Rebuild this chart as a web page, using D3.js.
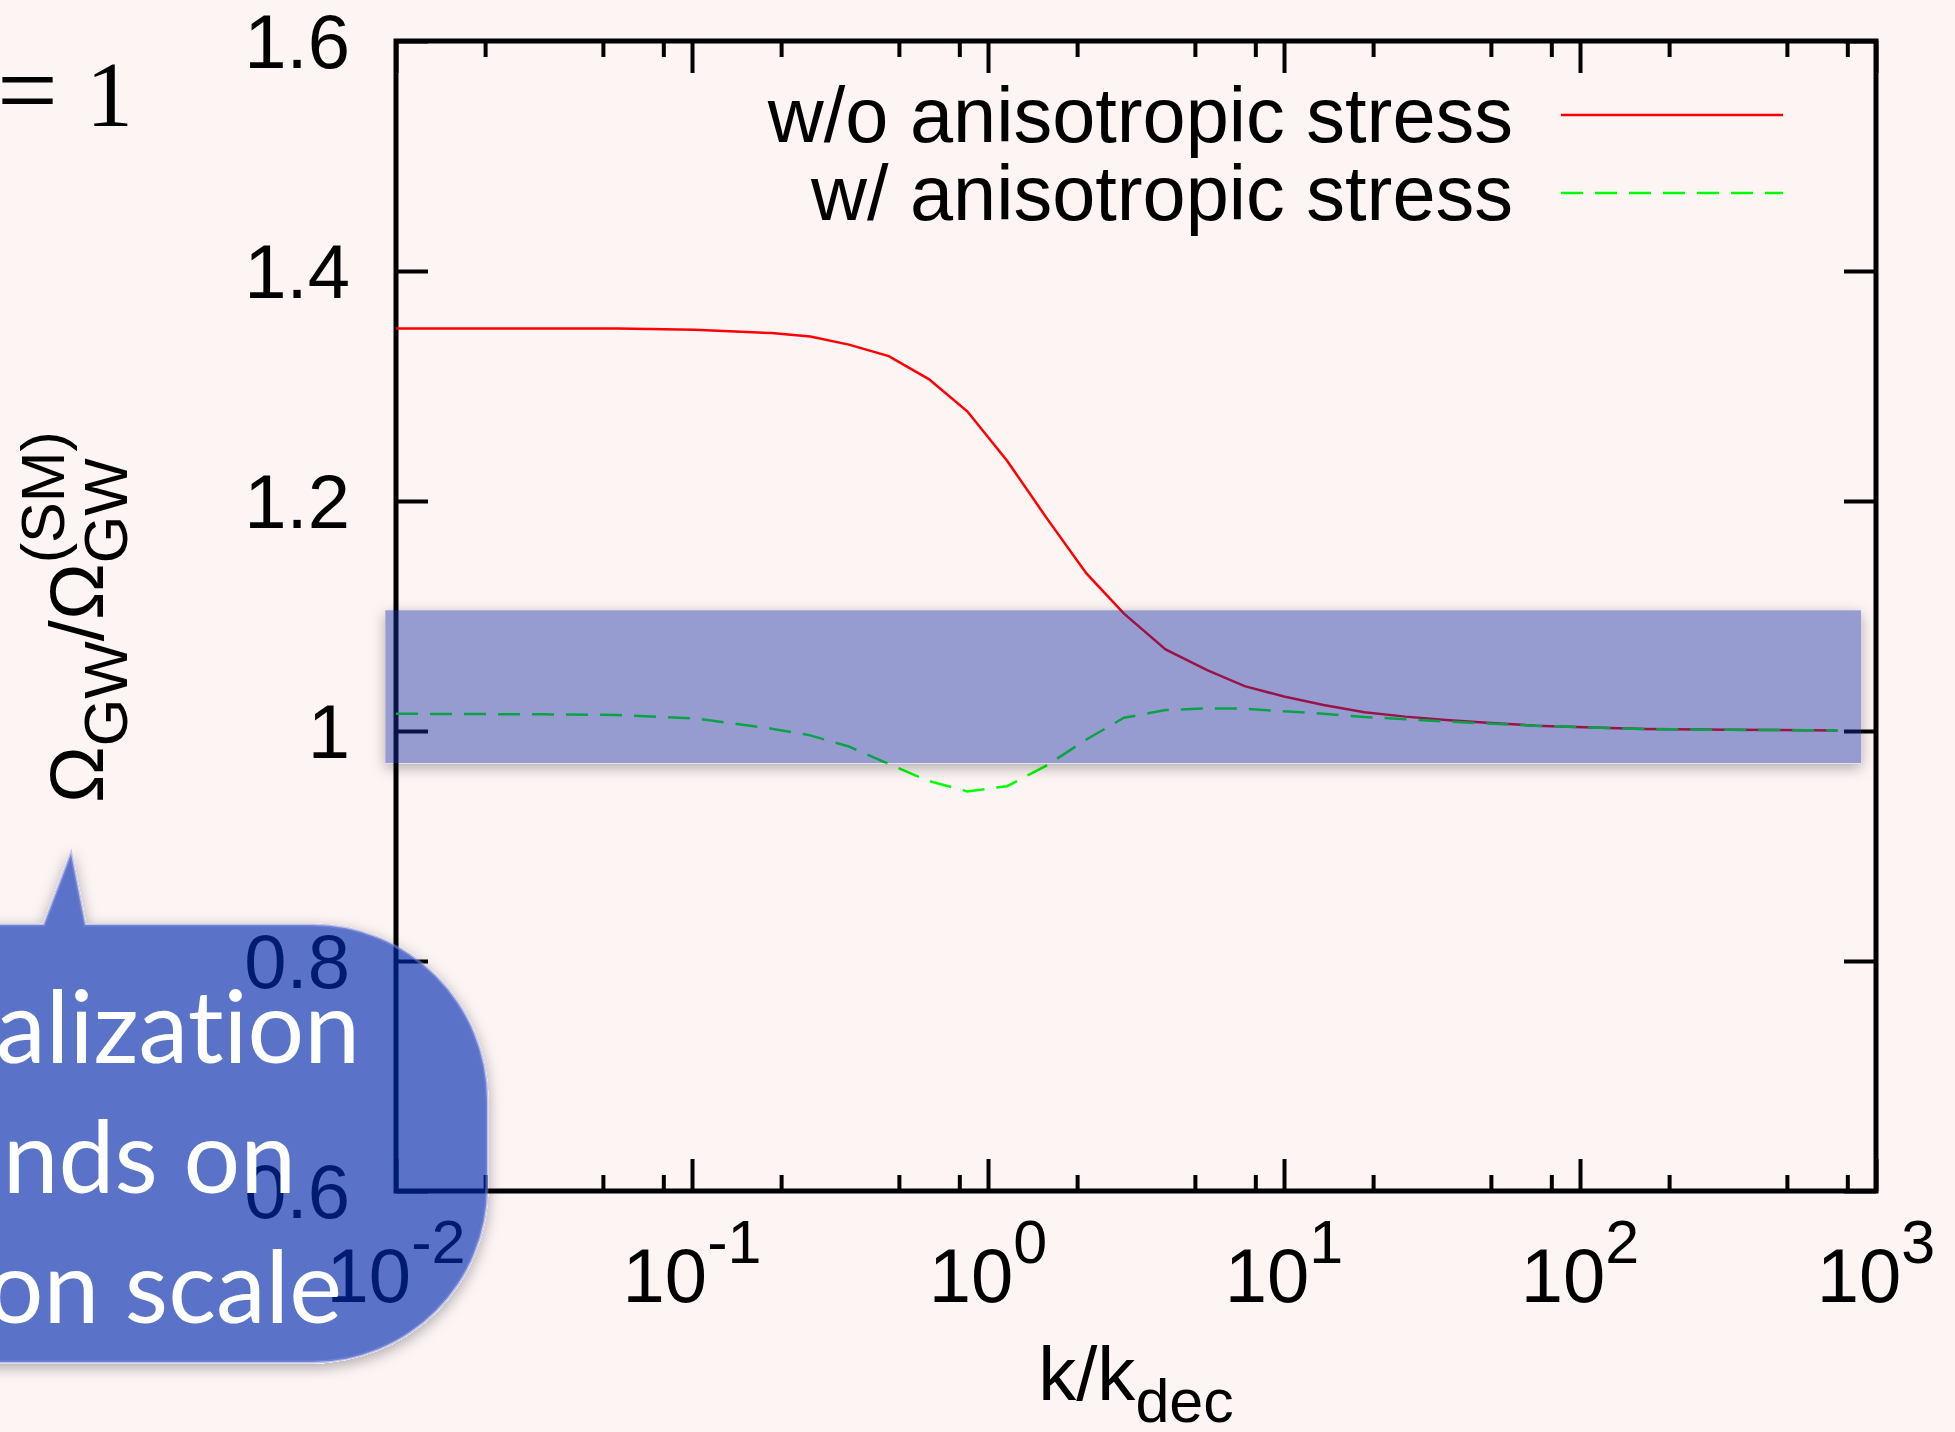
<!DOCTYPE html>
<html>
<head>
<meta charset="utf-8">
<script src="https://cdnjs.cloudflare.com/ajax/libs/d3/7.8.5/d3.min.js"></script>
<style>
  html, body { margin: 0; padding: 0; background: #fdf4f4; overflow: hidden; }
  svg { display: block; }
  text { font-family: "Liberation Sans", Arial, Helvetica, sans-serif; fill: #000; }
</style>
</head>
<body>
<svg id="chart"></svg>
<script>
// values
const kValues = [0.01, 0.0316, 0.0562, 0.102, 0.186, 0.251, 0.339, 0.462, 0.631, 0.851,
  1.16, 1.57, 2.15, 2.88, 3.98, 5.5, 7.36, 10, 13.6, 18.7, 25.7, 35.3, 48.5, 70.8,
  110, 166, 316, 741];
const withoutStress = [1.350, 1.350, 1.350, 1.349, 1.346, 1.343, 1.336, 1.326, 1.306, 1.278,
  1.235, 1.186, 1.137, 1.102, 1.071, 1.053, 1.039, 1.030, 1.0226, 1.0163, 1.0125, 1.0096, 1.0072, 1.0046,
  1.003, 1.0017, 1.001, 1.0005];
const withStress = [1.015, 1.0145, 1.0139, 1.011, 1.002, 0.9962, 0.9865, 0.9713, 0.9565, 0.9475,
  0.952, 0.9697, 0.9926, 1.0115, 1.0182, 1.0197, 1.0194, 1.0171, 1.015, 1.0122, 1.0102, 1.0082, 1.0065, 1.0046,
  1.003, 1.0017, 1.001, 1.0005];
const seriesNames = ["w/o anisotropic stress", "w/ anisotropic stress"];

const xMajorTicks = [0.01, 0.1, 1, 10, 100, 1000];
const xTickExponents = ["-2", "-1", "0", "1", "2", "3"];
const xMinorTicks = [0.02, 0.05, 0.08, 0.2, 0.5, 0.8, 2, 5, 8, 20, 50, 80, 200, 500, 800];
const yTicks = [0.6, 0.8, 1.0, 1.2, 1.4, 1.6];
const yTickLabels = ["0.6", "0.8", "1", "1.2", "1.4", "1.6"];

// highlighted band: k from, k to, ratio from, ratio to
const band = [0.0092, 890, 0.972, 1.105];
const bubbleLines = ["alization", "nds on", "on scale"];

const width = 1955;
const height = 1432;
const plot = { left: 396, right: 1876, top: 41, bottom: 1191 };

const svg = d3.select("#chart")
  .attr("width", width)
  .attr("height", height);

// drop shadow that stays outside the translucent shapes
const defs = svg.append("defs");
const shadow = defs.append("filter").attr("id", "shadow")
  .attr("x", "-20%").attr("y", "-20%").attr("width", "140%").attr("height", "140%");
shadow.append("feComponentTransfer").attr("in", "SourceAlpha").attr("result", "solid")
  .append("feFuncA").attr("type", "linear").attr("slope", 20);
shadow.append("feGaussianBlur").attr("in", "solid").attr("stdDeviation", 7).attr("result", "blur");
shadow.append("feOffset").attr("in", "blur").attr("dy", 4).attr("result", "off");
shadow.append("feFlood").attr("flood-color", "#000").attr("flood-opacity", 0.3);
shadow.append("feComposite").attr("in2", "off").attr("operator", "in").attr("result", "sh");
shadow.append("feComposite").attr("in", "sh").attr("in2", "solid").attr("operator", "out").attr("result", "shOut");
const merge = shadow.append("feMerge");
merge.append("feMergeNode").attr("in", "shOut");
merge.append("feMergeNode").attr("in", "SourceGraphic");

svg.append("rect").attr("width", width).attr("height", height).attr("fill", "#fdf4f4");

// scales
const x = d3.scaleLog().domain([0.01, 1000]).range([plot.left, plot.right]);
const y = d3.scaleLinear().domain([0.6, 1.6]).range([plot.bottom, plot.top]);

const g = svg.append("g");

// ticks, all pointing inward on the four sides
function tickGroup(axis, tx, ty) {
  const a = g.append("g")
    .attr("transform", `translate(${tx},${ty})`)
    .call(axis);
  a.select(".domain").remove();
  a.selectAll("text").remove();
  a.selectAll("line").attr("stroke", "#000").attr("stroke-width", 4);
  return a;
}
tickGroup(d3.axisBottom(x).tickValues(xMajorTicks).tickSize(-32), 0, plot.bottom);
tickGroup(d3.axisBottom(x).tickValues(xMinorTicks).tickSize(-16), 0, plot.bottom);
tickGroup(d3.axisTop(x).tickValues(xMajorTicks).tickSize(-32), 0, plot.top);
tickGroup(d3.axisTop(x).tickValues(xMinorTicks).tickSize(-16), 0, plot.top);
tickGroup(d3.axisLeft(y).tickValues(yTicks).tickSize(-32), plot.left, 0);
tickGroup(d3.axisRight(y).tickValues(yTicks).tickSize(-32), plot.right, 0);

// frame
g.append("rect")
  .attr("x", plot.left).attr("y", plot.top)
  .attr("width", plot.right - plot.left).attr("height", plot.bottom - plot.top)
  .attr("fill", "none").attr("stroke", "#000").attr("stroke-width", 5);

// tick labels
g.selectAll(".ylab")
  .data(yTicks)
  .enter()
  .append("text")
  .attr("class", "ylab")
  .attr("x", plot.left - 46)
  .attr("y", (d) => y(d))
  .attr("dy", "0.36em")
  .attr("text-anchor", "end")
  .attr("font-size", 76)
  .text((d, i) => yTickLabels[i]);

const xlab = g.selectAll(".xlab")
  .data(xMajorTicks)
  .enter()
  .append("text")
  .attr("class", "xlab")
  .attr("x", (d) => x(d))
  .attr("y", 1302)
  .attr("text-anchor", "middle")
  .attr("font-size", 76);
xlab.append("tspan").text("10");
xlab.append("tspan").attr("dy", -39).attr("font-size", 61).text((d, i) => xTickExponents[i]);

// axis titles
const xt = g.append("text")
  .attr("x", (plot.left + plot.right) / 2)
  .attr("y", 1400)
  .attr("text-anchor", "middle")
  .attr("font-size", 76);
xt.append("tspan").text("k/k");
xt.append("tspan").attr("dy", 22).attr("font-size", 61).text("dec");

const yt = g.append("g").attr("transform", "translate(103,803) rotate(-90)");
const ytText = yt.append("text").attr("font-size", 76);
ytText.append("tspan").text("Ω");
ytText.append("tspan").attr("dy", 24).attr("font-size", 61).text("GW");
ytText.append("tspan").attr("dy", -24).text("/Ω");
ytText.append("tspan").attr("dy", 24).attr("font-size", 61).text("GW");
const supX = ytText.node().getStartPositionOfChar(5).x;
yt.append("text").attr("x", supX).attr("y", -39).attr("font-size", 61).text("(SM)");

// curves
const series = [
  { name: seriesNames[0], values: withoutStress, color: "#ff0000", dash: null },
  { name: seriesNames[1], values: withStress, color: "#00ff00", dash: "22,12" }
];
const line = d3.line()
  .x((d) => x(d[0]))
  .y((d) => y(d[1]));

series.forEach((s) => {
  g.append("path")
    .datum(kValues.map((k, i) => [k, s.values[i]]))
    .attr("d", line)
    .attr("fill", "none")
    .attr("stroke", s.color)
    .attr("stroke-width", 2.5)
    .attr("stroke-dasharray", s.dash);
});

// legend
series.forEach((s, i) => {
  const ly = 142 + i * 78;
  g.append("text")
    .attr("x", 1513).attr("y", ly)
    .attr("text-anchor", "end")
    .attr("font-size", 77.5)
    .text(s.name);
  g.append("line")
    .attr("x1", 1561).attr("x2", 1783)
    .attr("y1", ly - 27).attr("y2", ly - 27)
    .attr("stroke", s.color)
    .attr("stroke-width", 2.5)
    .attr("stroke-dasharray", s.dash);
});

// fragment of slide equation at top left
const serif = "'Liberation Serif', 'DejaVu Serif', serif";
svg.append("text")
  .attr("x", 58).attr("y", 126)
  .attr("text-anchor", "end")
  .attr("font-size", 108)
  .style("font-family", serif)
  .text("=");
svg.append("text")
  .attr("x", 133).attr("y", 126)
  .attr("text-anchor", "end")
  .attr("font-size", 94)
  .style("font-family", serif)
  .text("1");

// translucent band over the plot
svg.append("rect")
  .attr("x", x(band[0]))
  .attr("y", y(band[3]))
  .attr("width", x(band[1]) - x(band[0]))
  .attr("height", y(band[2]) - y(band[3]))
  .attr("fill", "rgb(23,43,163)")
  .attr("fill-opacity", 0.443)
  .attr("filter", "url(#shadow)");

// speech bubble callout
const r = 175;
const bubble = d3.path();
bubble.moveTo(44, 925);
bubble.lineTo(71, 854);
bubble.lineTo(85, 925);
bubble.lineTo(487 - r, 925);
bubble.arcTo(487, 925, 487, 925 + r, r);
bubble.lineTo(487, 1362 - r);
bubble.arcTo(487, 1362, 487 - r, 1362, r);
bubble.lineTo(-400, 1362);
bubble.lineTo(-400, 925);
bubble.closePath();

svg.append("path")
  .attr("d", bubble.toString())
  .attr("fill", "rgb(8,42,177)")
  .attr("fill-opacity", 0.644)
  .attr("stroke", "rgb(130,145,220)")
  .attr("stroke-opacity", 0.5)
  .attr("stroke-width", 3)
  .attr("filter", "url(#shadow)");

const bubbleEnds = [360, 296, 342];
bubbleLines.forEach((t, i) => {
  svg.append("text")
    .attr("x", bubbleEnds[i])
    .attr("y", 1063 + i * 130)
    .attr("text-anchor", "end")
    .attr("font-size", 100)
    .style("font-family", "'Gill Sans', Lato, 'Open Sans', sans-serif")
    .style("font-variant-ligatures", "none")
    .style("fill", "#fff")
    .text(t);
});
</script>
</body>
</html>
